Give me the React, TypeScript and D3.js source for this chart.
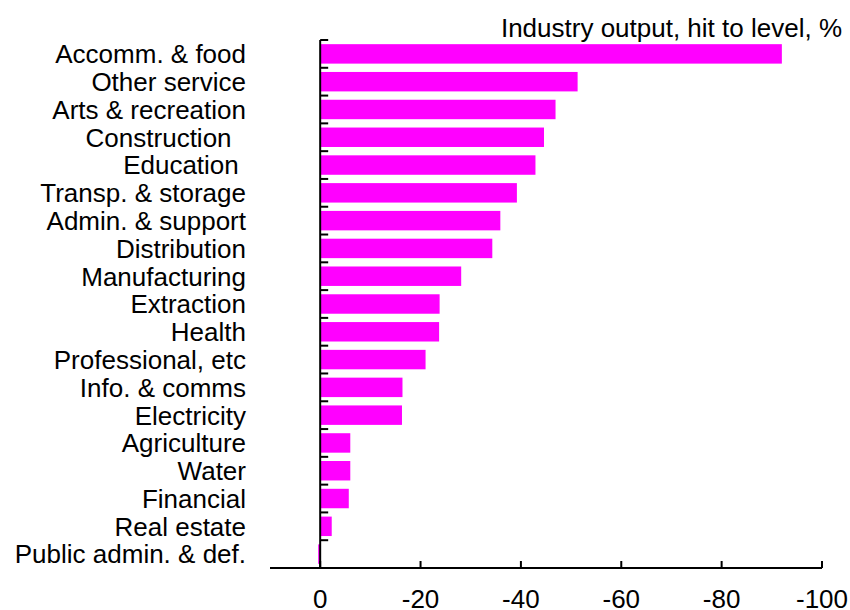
import React from "react";
import * as d3 from "d3";

const categories = [
  "Accomm. & food",
  "Other service",
  "Arts & recreation",
  "Construction  ",
  "Education ",
  "Transp. & storage",
  "Admin. & support",
  "Distribution",
  "Manufacturing",
  "Extraction",
  "Health",
  "Professional, etc",
  "Info. & comms",
  "Electricity",
  "Agriculture",
  "Water",
  "Financial",
  "Real estate",
  "Public admin. & def.",
];

const values = [
  -92.0, -51.3, -46.9, -44.6, -42.9, -39.2, -35.9, -34.3, -28.1, -23.8, -23.7,
  -21.0, -16.4, -16.3, -6.0, -6.0, -5.7, -2.3, 0.4,
];

const xTicks = [0, -20, -40, -60, -80, -100];
const title = "Industry output, hit to level, %";

const W = 850;
const H = 610;
const FONT = "'Liberation Sans', Arial, Helvetica, sans-serif";
const BAR = "#ff00ff";

export default function App() {
  const x = d3.scaleLinear().domain([10, -100]).range([270, 822]);
  const y = d3
    .scaleBand<string>()
    .domain(categories)
    .range([40, 568])
    .paddingInner(0.3)
    .paddingOuter(0.15);
  const step = y.step();
  const bounds = categories.map(
    (c) => (y(c) as number) - step * y.paddingInner() / 2
  );
  const x0 = x(0);
  const axisY = 568;

  return (
    <svg
      width={W}
      height={H}
      style={{ position: "absolute", left: 0, top: 0, background: "#fff" }}
      fontFamily={FONT}
    >
      {/* bars */}
      {categories.map((c, i) => {
        const xv = x(values[i]);
        return (
          <rect
            key={c}
            x={Math.min(x0, xv)}
            y={y(c)}
            width={Math.abs(xv - x0)}
            height={y.bandwidth()}
            fill={BAR}
          />
        );
      })}

      {/* y axis */}
      <line x1={x0} x2={x0} y1={bounds[0]} y2={axisY} stroke="#000" strokeWidth={2} />
      {bounds.map((b, i) => (
        <line key={i} x1={x0} x2={x0 + 8} y1={b} y2={b} stroke="#000" strokeWidth={2} />
      ))}

      {/* category labels */}
      {categories.map((c) => (
        <text
          key={c}
          x={246}
          y={(y(c) as number) + y.bandwidth() / 2}
          dy="0.36em"
          textAnchor="end"
          fontSize={26}
          fill="#000"
          style={{ whiteSpace: "pre" }}
        >
          {c}
        </text>
      ))}

      {/* x axis */}
      <line x1={x(10)} x2={x(-100)} y1={axisY} y2={axisY} stroke="#000" strokeWidth={2} />
      {xTicks.map((t) => (
        <g key={t}>
          <line x1={x(t)} x2={x(t)} y1={axisY} y2={axisY - 7} stroke="#000" strokeWidth={2} />
          <text x={x(t)} y={608} textAnchor="middle" fontSize={26} fill="#000">
            {t}
          </text>
        </g>
      ))}

      {/* title */}
      <text x={842} y={36.5} textAnchor="end" fontSize={26} fill="#000">
        {title}
      </text>
    </svg>
  );
}
